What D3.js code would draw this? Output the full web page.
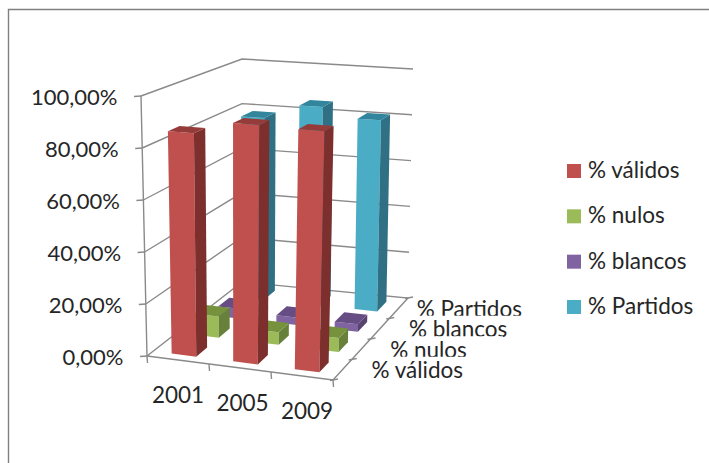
<!DOCTYPE html>
<html>
<head>
<meta charset="utf-8">
<script src="https://cdn.jsdelivr.net/npm/d3@7"></script>
<style>
  html, body { margin: 0; padding: 0; background: #fff; }
  svg { display: block; }
  text { font-family: Lato, "Open Sans", sans-serif; fill: #262626; }
</style>
</head>
<body>
<svg id="chart" width="709" height="463"></svg>
<script>
// Election percentages per year
const years = ["2001", "2005", "2009"];
const seriesNames = ["% válidos", "% nulos", "% blancos", "% Partidos"];
const validos = [86, 91, 90.5];
const nulos = [8.5, 5, 5.5];
const blancos = [4, 3, 3];
const partidos = [78.5, 85, 81];
const tickValues = [0, 20, 40, 60, 80, 100];
const tickLabels = ["0,00%", "20,00%", "40,00%", "60,00%", "80,00%", "100,00%"];

const seriesValues = [validos, nulos, blancos, partidos];
const faceColors = ["#C0504D", "#9BBB59", "#8064A2", "#4BACC6"];
const sideColors = ["#7C2F2D", "#67803A", "#574270", "#2F7085"];
const topColors = ["#953B39", "#76923C", "#664E85", "#31859C"];

const svg = d3.select("#chart");

// Box corners on screen: floor and ceiling, front/back, left/right
const floorFL = [147, 356], floorFR = [333, 380], floorBL = [242, 282], floorBR = [408, 298];
const ceilFL = [141, 96], ceilFR = [340, 110], ceilBL = [242, 59], ceilBR = [413, 69];

const xBand = d3.scaleBand().domain(years).range([0, 1]).paddingInner(0.6).paddingOuter(0.3);
const depthBand = d3.scaleBand().domain(seriesNames).range([0, 1]).paddingInner(0.52).paddingOuter(0.26);
const yScale = d3.scaleLinear().domain([0, 100]).range([0, 1]);

const lerp = (a, b, t) => [a[0] + (b[0] - a[0]) * t, a[1] + (b[1] - a[1]) * t];

// Trilinear projection of chart space (u across, v into depth, h up) to the screen
function project(u, v, h) {
  const bottom = lerp(lerp(floorFL, floorFR, u), lerp(floorBL, floorBR, u), v);
  const top = lerp(lerp(ceilFL, ceilFR, u), lerp(ceilBL, ceilBR, u), v);
  return lerp(bottom, top, h);
}

const line = d3.line();
const axisColor = "#8a8a8a";

function stroke(points, width) {
  svg.append("path").attr("d", line(points)).attr("fill", "none")
    .attr("stroke", axisColor).attr("stroke-width", width || 1.4);
}

// Outer frame of the chart area
svg.append("path").attr("d", "M8.5,463V9.5H709").attr("fill", "none")
  .attr("stroke", "#808080").attr("stroke-width", 1.4);

// Wall gridlines
tickValues.forEach(t => {
  const h = yScale(t);
  if (t > 0) {
    stroke([project(0, 0, h), project(0, 1, h), project(1, 1, h)]);
  }
  stroke([project(0, 0, h), [project(0, 0, h)[0] - 7, project(0, 0, h)[1] + 0.5]]);
});

// Floor outline and vertical axis
stroke([project(0, 0, 0), project(1, 0, 0), project(1, 1, 0), project(0, 1, 0), project(0, 0, 0)]);
stroke([project(0, 0, 0), project(0, 0, 1)]);

// Tick marks along the front and side floor edges
[0, 1 / 3, 2 / 3, 1].forEach(u => {
  const p = project(u, 0, 0);
  stroke([p, [p[0] + 0.5, p[1] + 7]]);
});
[0, 0.25, 0.5, 0.75, 1].forEach(v => {
  const p = project(1, v, 0);
  stroke([[p[0] - 3, p[1] + 0.5], [p[0] + 5, p[1] - 1]]);
});

// Bars, rows painted back to front
d3.range(seriesNames.length - 1, -1, -1).forEach(s => {
  const v0 = depthBand(seriesNames[s]);
  const v1 = v0 + depthBand.bandwidth();
  years.forEach((year, c) => {
    const u0 = xBand(year);
    const u1 = u0 + xBand.bandwidth();
    const h = yScale(seriesValues[s][c]);
    const g = svg.append("g").attr("class", "bar");
    g.append("path").attr("fill", faceColors[s])
      .attr("d", line([project(u0, v0, 0), project(u1, v0, 0), project(u1, v0, h), project(u0, v0, h)]) + "Z");
    g.append("path").attr("fill", sideColors[s])
      .attr("d", line([project(u1, v0, 0), project(u1, v1, 0), project(u1, v1, h), project(u1, v0, h)]) + "Z");
    g.append("path").attr("fill", topColors[s])
      .attr("d", line([project(u0, v0, h), project(u1, v0, h), project(u1, v1, h), project(u0, v1, h)]) + "Z");
  });
});

// Value axis labels
tickValues.forEach((t, i) => {
  const p = project(0, 0, yScale(t));
  svg.append("text").attr("x", p[0] - 23.5).attr("y", p[1] + 8.5)
    .attr("text-anchor", "end").attr("font-size", 22).text(tickLabels[i]);
});

// Year labels under the front edge, spread a little wider than the bars
years.forEach(year => {
  const u = xBand(year) + xBand.bandwidth() / 2;
  const p = project(u, 0, 0);
  svg.append("text").attr("x", p[0] + (u - 1 / 6) * 7.5).attr("y", p[1] + 43)
    .attr("text-anchor", "middle").attr("font-size", 22.5).text(year);
});

// Depth axis labels, each one over the previous with its own white box
d3.range(seriesNames.length - 1, -1, -1).forEach(s => {
  const p = project(1, depthBand(seriesNames[s]) + depthBand.bandwidth() / 2, 0);
  const lx = p[0] + (s === 3 ? 18 : 29);
  const ly = p[1] + 8.5;
  svg.append("rect").attr("x", lx - 3).attr("y", ly - 21.5)
    .attr("width", 116).attr("height", 26).attr("fill", "#fff");
  svg.append("text").attr("x", lx).attr("y", ly)
    .attr("font-size", 22.5).text(seriesNames[s]);
});

// Legend
const legendY = d3.scalePoint().domain(seriesNames).range([171, 307]);
seriesNames.forEach((name, s) => {
  const y = legendY(name);
  svg.append("rect").attr("x", 567).attr("y", y - 7).attr("width", 14).attr("height", 14)
    .attr("fill", faceColors[s]);
  svg.append("text").attr("x", 588).attr("y", y + 7).attr("font-size", 22.5).text(name);
});
</script>
</body>
</html>
